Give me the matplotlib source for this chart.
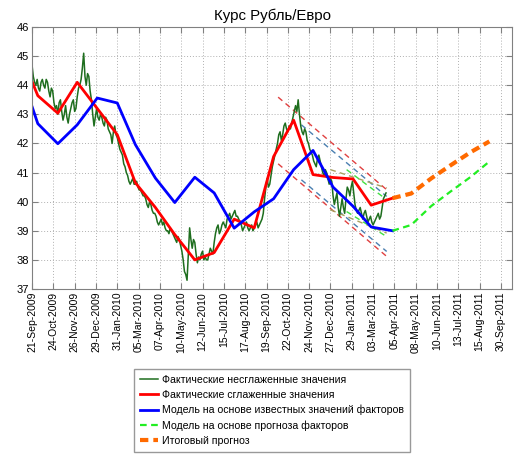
import numpy as np
import matplotlib.pyplot as plt

plt.rcParams['font.family'] = ['Liberation Sans', 'DejaVu Sans']

# =========================
# DATA
# =========================

# raw daily rate, one value every 2 days starting 21-Sep-2009
raw_start = np.datetime64('2009-09-21')
raw_step = 2
raw_values = [
    44.7, 44.3, 44.1, 44.0, 44.2, 43.9, 43.8, 44.1, 44.2, 44.0,
    43.9, 44.2, 44.1, 43.8, 43.6, 43.9, 43.8, 43.4, 43.2, 43.3,
    43.0, 43.4, 43.5, 43.1, 42.8, 43.0, 43.3, 42.9, 42.7, 43.0,
    43.2, 43.4, 43.5, 43.1, 43.2, 43.6, 43.9, 44.0, 44.2, 44.6,
    45.1, 44.3, 44.0, 44.4, 44.3, 43.8, 43.5, 43.0, 42.6, 42.9,
    43.2, 42.9, 42.8, 43.0, 42.9, 42.7, 42.6, 42.9, 42.8, 42.5,
    42.4, 42.3, 42.0, 42.4, 42.6, 42.3, 42.2, 42.0, 41.8, 41.7,
    41.6, 41.3, 41.2, 41.0, 40.9, 40.7, 40.6, 40.7, 40.8, 40.6,
    40.6, 40.7, 40.5, 40.4, 40.4, 40.3, 40.2, 40.2, 40.1, 39.9,
    39.8, 40.0, 39.9, 39.7, 39.6, 39.6, 39.5, 39.3, 39.2, 39.3,
    39.4, 39.2, 39.3, 39.1, 39.0, 39.0, 38.9, 39.1, 39.0, 38.9,
    38.8, 38.7, 38.6, 38.8, 38.7, 38.5, 38.3, 38.0, 37.6, 37.5,
    37.3, 38.2, 39.1, 38.7, 38.4, 38.7, 38.6, 38.2, 37.9, 38.1,
    38.0, 38.2, 38.3, 38.0, 38.1, 38.0, 38.0, 38.2, 38.4, 38.3,
    38.2, 38.6, 38.9, 39.1, 39.2, 38.9, 39.0, 39.2, 39.3, 39.2,
    39.1, 39.4, 39.5, 39.6, 39.4, 39.5, 39.6, 39.7, 39.5, 39.5,
    39.4, 39.3, 39.2, 39.0, 39.1, 39.2, 39.3, 39.1, 39.0, 39.1,
    39.2, 39.0, 39.1, 39.2, 39.3, 39.1, 39.2, 39.3, 39.4, 39.6,
    40.1, 40.5, 40.8, 40.5, 40.6, 40.9, 41.2, 41.4, 41.6, 41.8,
    42.0, 42.3, 42.4, 42.1, 42.3, 42.6, 42.7, 42.5, 42.4, 42.6,
    42.5, 42.7, 42.9, 43.1, 43.3, 43.1, 43.5, 43.0, 42.6, 42.4,
    42.3, 42.5, 42.4, 42.1, 42.0, 41.8, 41.7, 41.6, 41.4, 41.3,
    41.2, 41.5, 41.6, 41.4, 41.2, 41.0, 40.9, 41.1, 41.0, 40.8,
    40.6, 40.8, 40.7, 40.2, 39.9, 40.1, 40.3, 39.8, 39.5, 39.8,
    40.1, 39.8, 39.6, 40.1, 40.5, 40.4, 40.2, 40.5, 40.7, 40.3,
    39.9, 39.7, 39.6, 39.7, 39.8, 39.6, 39.4, 39.6, 39.7, 39.5,
    39.3, 39.4, 39.5, 39.3, 39.2, 39.3, 39.4, 39.5, 39.6, 39.4,
    39.5, 39.8, 40.1, 40.2, 40.3,
]

month_dates = [
    '2009-09-21', '2009-09-30', '2009-10-31', '2009-11-30', '2009-12-31',
    '2010-01-31', '2010-02-28', '2010-03-31', '2010-04-30', '2010-05-31',
    '2010-06-30', '2010-07-31', '2010-08-31', '2010-09-30', '2010-10-31',
    '2010-11-30', '2010-12-31', '2011-01-31', '2011-02-28', '2011-04-02',
]
smooth_values = [
    44.13, 43.64, 43.04, 44.10, 43.20, 42.30, 40.65, 39.80, 38.87, 38.00,
    38.25, 39.40, 39.10, 41.55, 42.80, 40.93, 40.83, 40.78, 39.88, 40.12,
]
model_values = [
    43.27, 42.68, 41.99, 42.64, 43.56, 43.39, 41.96, 40.81, 39.97, 40.84,
    40.30, 39.09, 39.65, 40.10, 41.10, 41.76, 40.50, 39.84, 39.13, 39.00,
]

forecast_dates = ['2011-04-02', '2011-05-01', '2011-06-01', '2011-07-01',
                  '2011-08-01', '2011-08-30']
factor_forecast = [39.00, 39.20, 39.85, 40.35, 40.85, 41.38]
final_forecast = [40.12, 40.28, 40.80, 41.25, 41.70, 42.07]

# trend channels: start date, end date, upper (start, end), lower (start, end)
channels = {
    'red':   ('2010-10-07', '2011-03-24', (43.59, 40.41), (41.30, 38.12)),
    'blue':  ('2010-11-12', '2011-03-24', (42.64, 40.18), (40.75, 38.29)),
    'olive': ('2010-12-27', '2011-03-24', (41.10, 40.47), (39.72, 38.92)),
    'green': ('2011-01-21', '2011-03-24', (41.10, 40.07), (39.66, 38.80)),
}
channel_colors = {
    'red': '#e04040',
    'blue': '#4a7fb0',
    'olive': '#a8a060',
    'green': '#40e040',
}

tick_labels = [
    '21-Sep-2009', '24-Oct-2009', '26-Nov-2009', '29-Dec-2009', '31-Jan-2010',
    '05-Mar-2010', '07-Apr-2010', '10-May-2010', '12-Jun-2010', '15-Jul-2010',
    '17-Aug-2010', '19-Sep-2010', '22-Oct-2010', '24-Nov-2010', '27-Dec-2010',
    '29-Jan-2011', '03-Mar-2011', '05-Apr-2011', '08-May-2011', '10-Jun-2011',
    '13-Jul-2011', '15-Aug-2011', '30-Sep-2011',
]

legend_labels = [
    'Фактические несглаженные значения',
    'Фактические сглаженные значения',
    'Модель на основе известных значений факторов',
    'Модель на основе прогноза факторов',
    'Итоговый прогноз',
]

# =========================
# FIGURE
# =========================

fig = plt.figure(figsize=(5.14, 4.54), dpi=100)
ax = fig.add_axes([32 / 514, 1 - 289 / 454, 480 / 514, 262 / 454])

raw_dates = raw_start + np.arange(len(raw_values)) * np.timedelta64(raw_step, 'D')
md = np.array(month_dates, dtype='datetime64[D]')
fd = np.array(forecast_dates, dtype='datetime64[D]')

for key, (d0, d1, up, lo) in channels.items():
    cd = np.array([d0, d1], dtype='datetime64[D]')
    ax.plot(cd, up, linestyle=(0, (4, 3)), color=channel_colors[key], lw=1.0)
    ax.plot(cd, lo, linestyle=(0, (4, 3)), color=channel_colors[key], lw=1.0)

h1, = ax.plot(raw_dates, raw_values, color='#1e6e1e', lw=1.1)
h2, = ax.plot(md, smooth_values, color='red', lw=2.0)
h3, = ax.plot(md, model_values, color='blue', lw=2.0)
h4, = ax.plot(fd, factor_forecast, color='#22ee22', lw=1.6, linestyle=(0, (3, 2)))
h5, = ax.plot(fd, final_forecast, color='#ff6a00', lw=3.0, linestyle=(0, (2, 1.2)))

# =========================
# AXES
# =========================

ticks = raw_start + np.arange(len(tick_labels)) * np.timedelta64(33, 'D')
ax.set_xticks(ticks)
ax.set_xticklabels(tick_labels, rotation=90, fontsize=7.5)
ax.set_xlim(raw_start, raw_start + np.timedelta64(743, 'D'))

ax.set_ylim(37, 46)
ax.set_yticks(np.arange(37, 47))
ax.tick_params(axis='y', labelsize=8)
ax.tick_params(direction='in', top=True, right=True, length=4,
               color='#808080', pad=2)

ax.grid(True, linestyle=(0, (1, 2)), color='#b0b0b0', lw=0.7)
for s in ax.spines.values():
    s.set_color('#808080')

ax.set_title('Курс Рубль/Евро', fontsize=10.8, pad=5)

fig.legend([h1, h2, h3, h4, h5], legend_labels,
           loc='upper left', bbox_to_anchor=(134 / 514, 1 - 369 / 454),
           prop={'size': 7.6}, frameon=True, fancybox=False,
           edgecolor='#808080', borderaxespad=0, handlelength=1.7,
           labelspacing=0.48, borderpad=0.55, handletextpad=0.4)

fig.savefig('out.png', dpi=100)
